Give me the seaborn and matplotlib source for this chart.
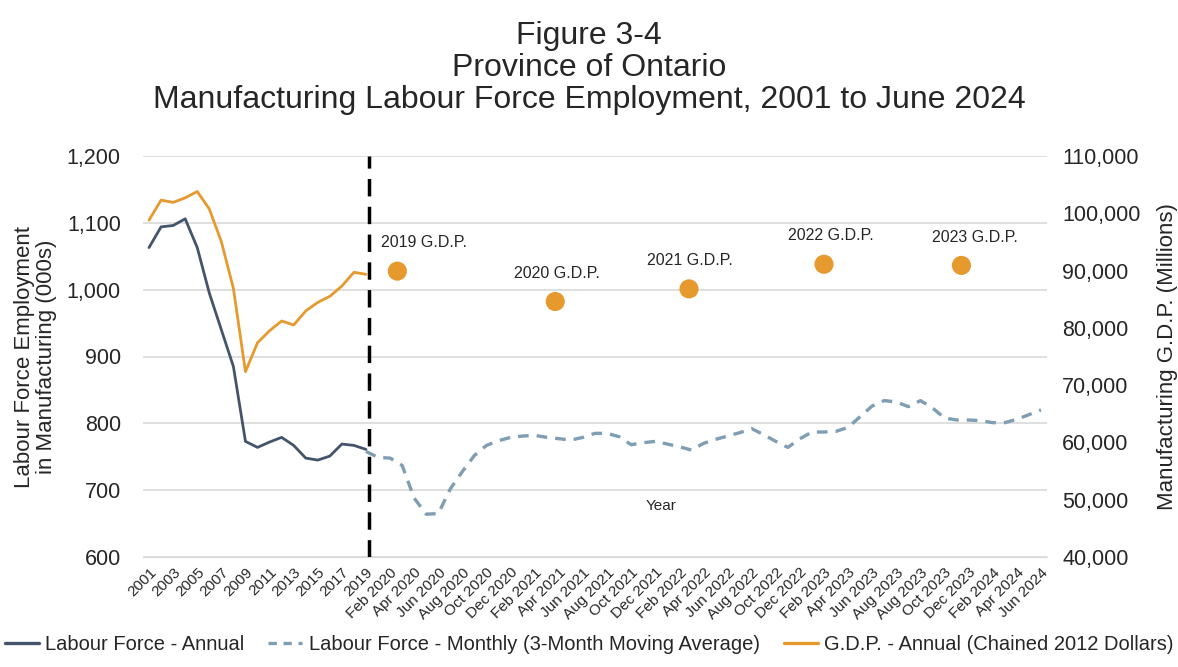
import numpy as np
import pandas as pd
import matplotlib
matplotlib.use('Agg')
import matplotlib.pyplot as plt
import seaborn as sns
from matplotlib.ticker import FuncFormatter, MultipleLocator, FixedLocator
from matplotlib.lines import Line2D

# ── data ─────────────────────────────────────
years = list(range(2001, 2020))
lf_annual = [1063, 1094, 1096, 1106, 1063, 995, 940, 885, 773, 764,
             772, 779, 767, 748, 745, 751, 769, 767, 761]
gdp_annual = [98800, 102300, 101900, 102700, 103800, 100750, 95050, 86900, 72350, 77400,
              79500, 81200, 80500, 82950, 84450, 85500, 87300, 89700, 89350]

# 3-month moving average, monthly from Dec 2019 onwards (category positions 18..74)
lf_monthly = [758, 749, 748, 737, 688, 664, 665, 702, 728, 752,
              767, 774, 779, 781, 782, 779, 777, 775, 779, 785,
              785, 780, 768, 771, 773, 769, 765, 760, 770, 776,
              781, 786, 792, 783, 773, 764, 777, 787, 787, 788,
              794, 810, 826, 834, 832, 825, 834, 823, 808, 805,
              805, 804, 801, 801, 806, 813, 820]

tick_labels = [str(y) for y in range(2001, 2020, 2)] + [
    'Feb 2020', 'Apr 2020', 'Jun 2020', 'Aug 2020', 'Oct 2020', 'Dec 2020',
    'Feb 2021', 'Apr 2021', 'Jun 2021', 'Aug 2021', 'Oct 2021', 'Dec 2021',
    'Feb 2022', 'Apr 2022', 'Jun 2022', 'Aug 2022', 'Oct 2022', 'Dec 2022',
    'Feb 2023', 'Apr 2023', 'Jun 2023', 'Aug 2023', 'Aug 2023', 'Oct 2023', 'Dec 2023',
    'Feb 2024', 'Apr 2024', 'Jun 2024']

gdp_dot_labels = ['2019 G.D.P.', '2020 G.D.P.', '2021 G.D.P.', '2022 G.D.P.', '2023 G.D.P.']
gdp_dot_pos = [20.6, 33.7, 44.8, 56.0, 67.4]
gdp_dot_values = [89900, 84600, 86800, 91100, 90900]
label_dx = [19, 1, 1, 5, 10]   # label offsets (points)

n_cat = 2 * len(tick_labels) - 1
split_pos = 18.25

# ── styling ──────────────────────────────────
sns.set_style('white')
plt.rcParams['font.family'] = ['Liberation Sans', 'DejaVu Sans']

C_DARK = '#44546A'
C_LIGHT = '#7F9DB3'
C_GDP = '#E69A2E'
C_GRID = '#D9D9D9'

df_annual = pd.DataFrame({'pos': np.arange(len(years)), 'lf': lf_annual, 'gdp': gdp_annual})
df_month = pd.DataFrame({'pos': np.arange(len(lf_monthly)) + len(years) - 1, 'lf': lf_monthly})
df_dots = pd.DataFrame({'pos': gdp_dot_pos, 'gdp': gdp_dot_values, 'label': gdp_dot_labels})

fig = plt.figure(figsize=(11.78, 6.67), dpi=100)
ax = fig.add_axes([143 / 1178, 1 - 557 / 667, (1047 - 143) / 1178, (557 - 156) / 667])
ax2 = ax.twinx()

sns.lineplot(data=df_annual, x='pos', y='lf', ax=ax, color=C_DARK, lw=2.0)
sns.lineplot(data=df_month, x='pos', y='lf', ax=ax, color=C_LIGHT, lw=2.4,
             linestyle=(0, (3.2, 2.4)))
sns.lineplot(data=df_annual, x='pos', y='gdp', ax=ax2, color=C_GDP, lw=2.0)
sns.scatterplot(data=df_dots, x='pos', y='gdp', ax=ax2, color=C_GDP, s=190,
                edgecolor='none', zorder=5)
for (_, r), dx in zip(df_dots.iterrows(), label_dx):
    ax2.annotate(r['label'], (r['pos'], r['gdp']), xytext=(dx, 15),
                 textcoords='offset points', ha='center', va='bottom', fontsize=11.5)

ax.axvline(split_pos, color='black', lw=2.5, linestyle=(0, (5, 3)), zorder=6)

# axes
ax.set_xlim(-0.5, n_cat - 0.5)
ax.set_ylim(600, 1200)
ax2.set_ylim(40000, 110000)
ax.yaxis.set_major_locator(MultipleLocator(100))
ax2.yaxis.set_major_locator(MultipleLocator(10000))
ax.yaxis.set_major_formatter(FuncFormatter(lambda v, p: f'{v:,.0f}'))
ax2.yaxis.set_major_formatter(FuncFormatter(lambda v, p: f'{v:,.0f}'))
ax.grid(axis='y', color=C_GRID, lw=1.2)
ax.set_axisbelow(True)

ax.xaxis.set_major_locator(FixedLocator(np.arange(0, n_cat, 2)))
ax.set_xticklabels(tick_labels, rotation=45, ha='right', rotation_mode='anchor', fontsize=11)
ax.xaxis.set_minor_locator(FixedLocator(np.arange(-0.5, n_cat, 1)))
ax.tick_params(axis='x', which='major', length=0, pad=6)
ax.tick_params(axis='x', which='minor', length=4, color=C_GRID, width=1)
ax.tick_params(axis='y', length=0, labelsize=15.5, pad=16)
ax2.tick_params(axis='y', length=0, labelsize=15.5, pad=11)

for a in (ax, ax2):
    for s in ('top', 'left', 'right'):
        a.spines[s].set_visible(False)
    a.spines['bottom'].set_color(C_GRID)
ax2.spines['bottom'].set_visible(False)

ax.set_xlabel('')
ax2.set_xlabel('')
ax.set_ylabel('Labour Force Employment\nin Manufacturing (000s)', fontsize=16, labelpad=7,
              linespacing=1.05)
ax2.set_ylabel('Manufacturing G.D.P. (Millions)', fontsize=16, labelpad=12)
ax.text(42.5, 676, 'Year', ha='center', va='center', fontsize=11)

fig.suptitle('Figure 3-4\nProvince of Ontario\nManufacturing Labour Force Employment, 2001 to June 2024',
             fontsize=23, y=0.968, linespacing=1.07)

handles = [Line2D([], [], color=C_DARK, lw=2.4),
           Line2D([], [], color=C_LIGHT, lw=2.4, linestyle=(0, (2.5, 2))),
           Line2D([], [], color=C_GDP, lw=2.4)]
labels = ['Labour Force - Annual', 'Labour Force - Monthly (3-Month Moving Average)',
          'G.D.P. - Annual (Chained 2012 Dollars)']
fig.legend(handles, labels, loc='lower center', bbox_to_anchor=(0.5, -0.008), ncol=3,
           frameon=False, fontsize=14.5, handlelength=1.7, handletextpad=0.3, columnspacing=1.2)

fig.savefig('out.png', dpi=100)
